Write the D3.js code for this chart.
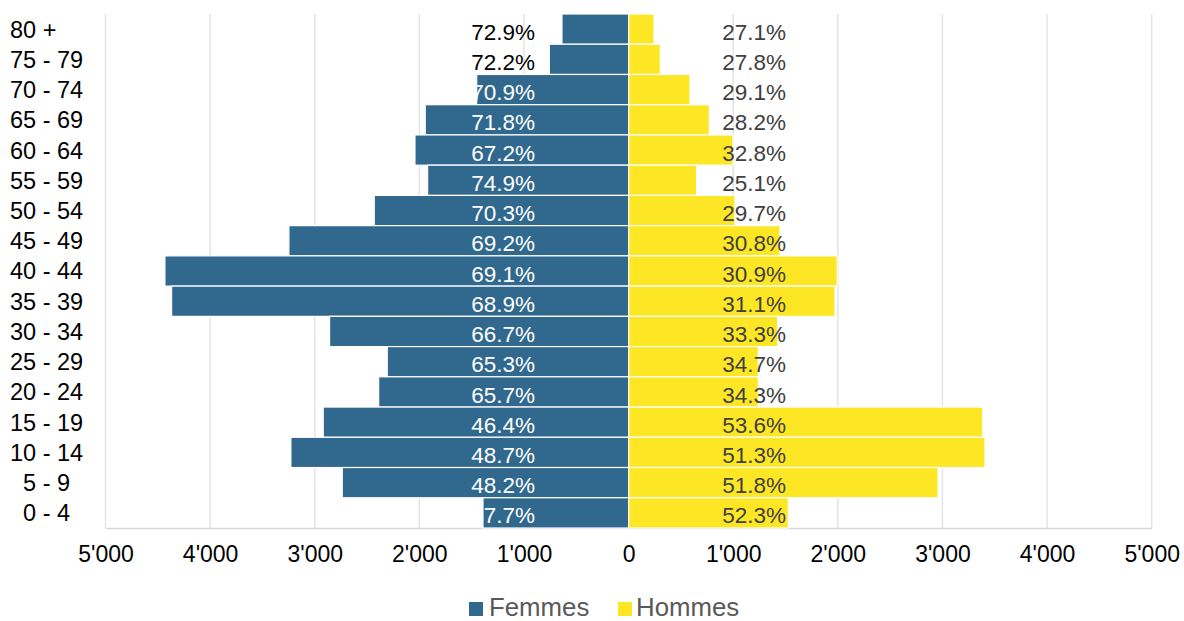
<!DOCTYPE html>
<html>
<head>
<meta charset="utf-8">
<script src="https://cdn.jsdelivr.net/npm/d3@7"></script>
<style>
  html, body { margin: 0; padding: 0; background: #fff; }
  svg { display: block; font-family: "Liberation Sans", Arial, sans-serif; }
  .cat { white-space: pre; }
</style>
</head>
<body>
<svg id="chart" width="1184" height="621"></svg>
<script>
// ---- data ----
const categories = ["80 +", "75 - 79", "70 - 74", "65 - 69", "60 - 64", "55 - 59", "50 - 54", "45 - 49",
  "40 - 44", "35 - 39", "30 - 34", "25 - 29", "20 - 24", "15 - 19", "10 - 14", "  5 - 9", "  0 - 4"];
const femmes = [637, 758, 1452, 1944, 2042, 1921, 2431, 3247, 4432, 4368, 2858, 2307, 2389, 2919, 3228, 2737, 1392];
const hommes = [243, 303, 587, 772, 998, 651, 1017, 1447, 1995, 1973, 1425, 1240, 1240, 3385, 3407, 2958, 1527];
const femmesPct = ["72.9%", "72.2%", "70.9%", "71.8%", "67.2%", "74.9%", "70.3%", "69.2%", "69.1%", "68.9%",
  "66.7%", "65.3%", "65.7%", "46.4%", "48.7%", "48.2%", "47.7%"];
const hommesPct = ["27.1%", "27.8%", "29.1%", "28.2%", "32.8%", "25.1%", "29.7%", "30.8%", "30.9%", "31.1%",
  "33.3%", "34.7%", "34.3%", "53.6%", "51.3%", "51.8%", "52.3%"];
const xTicks = [-5000, -4000, -3000, -2000, -1000, 0, 1000, 2000, 3000, 4000, 5000];
const seriesNames = ["Femmes", "Hommes"];
const colors = { Femmes: "#31688e", Hommes: "#fde725" };

// ---- layout ----
const svg = d3.select("#chart");
const mLeft = 105.5, mRight = 1151.7, mTop = 14, mBottom = 528;
const x = d3.scaleLinear().domain([-5000, 5000]).range([mLeft, mRight]);
const y = d3.scaleBand().domain(categories).range([mTop, mBottom]).padding(0);
const fmt = v => {
  const a = Math.abs(v);
  if (a === 0) return "0";
  return d3.format(",")(a).replace(/,/g, "'");
};

// gridlines
svg.append("g").selectAll("line").data(xTicks).join("line")
  .attr("x1", d => x(d)).attr("x2", d => x(d))
  .attr("y1", mTop).attr("y2", mBottom)
  .attr("stroke", "#e3e3e3").attr("stroke-width", 1.4);

// x axis
const xAxis = svg.append("g").attr("transform", `translate(0,${mBottom})`)
  .call(d3.axisBottom(x).tickValues(xTicks).tickFormat(fmt).tickSize(0).tickPadding(18));
xAxis.select(".domain").attr("stroke", "#d9d9d9").attr("stroke-width", 1.6);
xAxis.selectAll("text").attr("font-size", 23).attr("fill", "#000")
  .attr("font-family", "'Liberation Sans', Arial, sans-serif");

// bars
const rows = categories.map((c, i) => ({ c, f: femmes[i], h: hommes[i], fp: femmesPct[i], hp: hommesPct[i] }));
const g = svg.append("g");
g.selectAll("rect.f").data(rows).join("rect").attr("class", "f")
  .attr("x", d => x(-d.f)).attr("width", d => x(0) - x(-d.f))
  .attr("y", d => y(d.c)).attr("height", y.bandwidth())
  .attr("fill", colors.Femmes).attr("stroke", "#fff").attr("stroke-width", 1.2);
g.selectAll("rect.h").data(rows).join("rect").attr("class", "h")
  .attr("x", x(0)).attr("width", d => x(d.h) - x(0))
  .attr("y", d => y(d.c)).attr("height", y.bandwidth())
  .attr("fill", colors.Hommes).attr("stroke", "#fff").attr("stroke-width", 1.2);

// percentage labels
const labelOffset = 1200;
g.selectAll("text.fp").data(rows).join("text").attr("class", "fp")
  .attr("x", x(-labelOffset)).attr("y", d => y(d.c) + y.bandwidth() / 2 + 2.5)
  .attr("dy", "0.36em").attr("text-anchor", "middle")
  .attr("font-size", 22.5)
  .attr("fill", d => d.f < 1000 ? "#000" : "#fff")
  .text(d => d.fp);
g.selectAll("text.hp").data(rows).join("text").attr("class", "hp")
  .attr("x", x(labelOffset)).attr("y", d => y(d.c) + y.bandwidth() / 2 + 2.5)
  .attr("dy", "0.36em").attr("text-anchor", "middle")
  .attr("font-size", 22.5).attr("fill", "#404040")
  .text(d => d.hp);

// category labels
svg.append("g").selectAll("text").data(categories).join("text").attr("class", "cat")
  .attr("x", 10).attr("y", d => y(d) + y.bandwidth() / 2)
  .attr("dy", "0.36em").attr("font-size", 23.5).attr("fill", "#000")
  .text(d => d);

// legend
const legendPos = [{ n: "Femmes", sx: 469, tx: 489 }, { n: "Hommes", sx: 618, tx: 636 }];
const lg = svg.append("g");
lg.selectAll("rect").data(legendPos).join("rect")
  .attr("x", d => d.sx).attr("y", 602).attr("width", 14).attr("height", 14)
  .attr("fill", d => colors[d.n]);
lg.selectAll("text").data(legendPos).join("text")
  .attr("x", d => d.tx).attr("y", 615.5).attr("font-size", 25.8).attr("fill", "#595959")
  .text(d => d.n);
</script>
</body>
</html>
